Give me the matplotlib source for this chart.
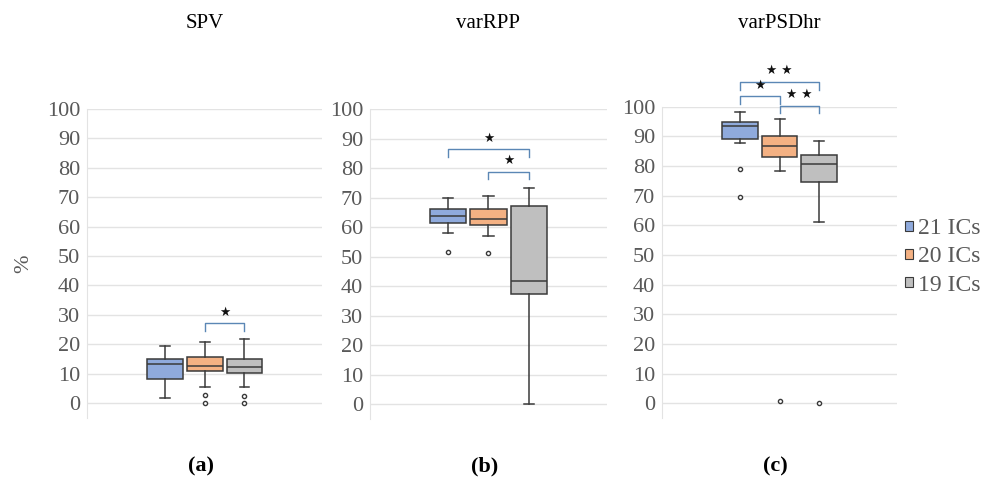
import matplotlib
matplotlib.use("Agg")
import matplotlib.pyplot as plt
from matplotlib.patches import Patch

# groups / colours
groups = ["21 ICs", "20 ICs", "19 ICs"]
face = ["#8faadc", "#f4b183", "#bfbfbf"]
titles = ["SPV", "varRPP", "varPSDhr"]
letters = ["(a)", "(b)", "(c)"]

# box statistics: [21 ICs, 20 ICs, 19 ICs]
spv_lo = [1.6, 5.3, 5.3]
spv_q1 = [8.1, 10.9, 10.1]
spv_med = [13.3, 12.6, 12.1]
spv_q3 = [15.0, 15.8, 14.9]
spv_hi = [19.5, 20.6, 21.9]
spv_out = [[], [2.6, 0.1], [2.4, 0.0]]

rpp_lo = [57.9, 57.0, 0.0]
rpp_q1 = [61.5, 60.6, 37.4]
rpp_med = [63.7, 62.9, 41.6]
rpp_q3 = [66.3, 66.3, 67.2]
rpp_hi = [69.9, 70.7, 73.2]
rpp_out = [[51.6], [51.3], []]

psd_lo = [87.7, 78.3, 61.0]
psd_q1 = [89.2, 83.0, 74.6]
psd_med = [93.6, 86.9, 80.6]
psd_q3 = [94.9, 90.2, 83.7]
psd_hi = [98.3, 96.0, 88.6]
psd_out = [[78.9, 69.6], [0.7], [0.0]]

# significance brackets: (from group, to group, height, label)
spv_sig = [(1, 2, 27.1, "★")]
rpp_sig = [(0, 2, 86.4, "★"), (1, 2, 78.8, "★")]
psd_sig = [(0, 2, 108.3, "★ ★"), (0, 1, 103.5, "★"), (1, 2, 100.4, "★ ★")]

panels = [
    (spv_lo, spv_q1, spv_med, spv_q3, spv_hi, spv_out, spv_sig),
    (rpp_lo, rpp_q1, rpp_med, rpp_q3, rpp_hi, rpp_out, rpp_sig),
    (psd_lo, psd_q1, psd_med, psd_q3, psd_hi, psd_out, psd_sig),
]

serif = "Liberation Serif"
tick_col = "#595959"
edge = "#3a3a3a"

fig = plt.figure(figsize=(9.97, 4.8), dpi=100)
rects = [
    [0.0873, 0.1298, 0.2357, 0.6431],
    [0.3711, 0.1277, 0.2377, 0.6446],
    [0.6640, 0.1290, 0.2357, 0.6487],
]
pos = [-1, 0, 1]

for k, (lo, q1, med, q3, hi, out, sig) in enumerate(panels):
    ax = fig.add_axes(rects[k])
    stats = []
    for i in range(3):
        stats.append({"whislo": lo[i], "q1": q1[i], "med": med[i],
                      "q3": q3[i], "whishi": hi[i], "fliers": out[i]})
    bp = ax.bxp(stats, positions=pos, widths=0.9, patch_artist=True,
                showmeans=False, capwidths=0.25,
                boxprops=dict(edgecolor=edge, linewidth=1.1),
                medianprops=dict(color=edge, linewidth=1.1),
                whiskerprops=dict(color=edge, linewidth=1.1),
                capprops=dict(color=edge, linewidth=1.1),
                flierprops=dict(marker="o", markersize=3.0, mfc="white",
                                mec=edge, mew=1.0))
    for patch, c in zip(bp["boxes"], face):
        patch.set_facecolor(c)
    for a, b, h, lab in sig:
        xa, xb = pos[a], pos[b]
        ax.plot([xa, xa, xb, xb], [h - 2.5, h, h, h - 2.5], color="#5b87b5",
                lw=1.0, clip_on=False)
        ax.text((xa + xb) / 2, h + 3.8, lab, ha="center", va="center",
                fontsize=9, family="DejaVu Sans", color="#111111")

    ax.set_xlim(-2.94, 2.94)
    ax.set_ylim(-5, 100)
    ax.set_yticks(range(0, 101, 10))
    ax.set_xticks([])
    ax.grid(axis="y", color="#e3e3e3", linewidth=1.0)
    ax.set_axisbelow(True)
    for s in ["top", "right", "bottom"]:
        ax.spines[s].set_visible(False)
    ax.spines["left"].set_color("#e3e3e3")
    ax.tick_params(axis="y", length=0, pad=5, labelsize=16, labelcolor=tick_col)
    for t in ax.get_yticklabels():
        t.set_family(serif)
    cx = rects[k][0] + rects[k][2] / 2
    fig.text(cx, 0.952, titles[k], ha="center", va="center", fontsize=15,
             family=serif, color="black")
    fig.text(cx - 0.004, 0.029, letters[k], ha="center", va="center",
             fontsize=16, family=serif, weight="bold", color="black")
    if k == 0:
        ax.set_ylabel("%", fontsize=16, family=serif, color=tick_col, labelpad=10)

handles = [Patch(facecolor=c, edgecolor=edge, linewidth=0.8) for c in face]
fig.legend(handles, groups, loc="center left", bbox_to_anchor=(0.908, 1 - 257 / 480),
           frameon=False, labelcolor=tick_col, handlelength=0.32,
           handleheight=0.32, handletextpad=0.22, labelspacing=0.3,
           prop={"family": serif, "size": 17}, borderaxespad=0, borderpad=0)

fig.savefig("out.png", dpi=100)
